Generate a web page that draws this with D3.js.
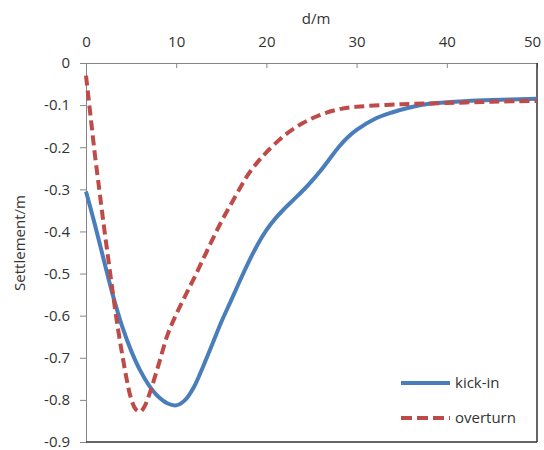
<!DOCTYPE html>
<html>
<head>
    <meta charset="utf-8" />
    <title>Settlement vs distance</title>
    <style>
        body { margin: 0; background: #fff; }
        svg text { font-family: "Open Sans", sans-serif; fill: #333; }
    </style>
    <script src="https://cdn.jsdelivr.net/npm/d3@7"></script>
</head>
<body>
    <div id="chart"></div>
    <script>
        // distance (m) and settlement (m)
        var kickD = [0, 1, 2, 3, 4, 5, 6, 7, 8, 9, 10, 11, 12, 13, 14, 15, 16, 17, 18, 19, 20,
                     21, 22, 23, 24, 25, 26, 27, 28, 29, 30, 32, 34, 36, 38, 40, 45, 50];
        var kickV = [-0.305, -0.385, -0.47, -0.553, -0.625, -0.683, -0.73, -0.766, -0.792, -0.808, -0.813,
                     -0.8, -0.768, -0.72, -0.668, -0.615, -0.568, -0.52, -0.474, -0.432, -0.397,
                     -0.369, -0.346, -0.325, -0.304, -0.281, -0.256, -0.228, -0.2, -0.177, -0.159,
                     -0.133, -0.117, -0.105, -0.097, -0.093, -0.088, -0.085];

        var overD = [0, 0.5, 1, 1.5, 2, 2.5, 3, 3.5, 4, 4.5, 5, 5.5, 6, 6.5, 7, 8, 9, 10, 11, 12,
                     13, 14, 15, 16, 17, 18, 19, 20, 22, 24, 26, 28, 30, 35, 40, 45, 50];
        var overV = [-0.03, -0.125, -0.22, -0.305, -0.39, -0.47, -0.55, -0.625, -0.69, -0.75, -0.797, -0.822,
                     -0.828, -0.815, -0.788, -0.72, -0.648, -0.597, -0.553, -0.51,
                     -0.465, -0.42, -0.377, -0.338, -0.3, -0.264, -0.236, -0.212, -0.172, -0.143,
                     -0.123, -0.11, -0.104, -0.098, -0.095, -0.092, -0.09];

        var xTicks = [0, 10, 20, 30, 40, 50];
        var yTicks = [0, -0.1, -0.2, -0.3, -0.4, -0.5, -0.6, -0.7, -0.8, -0.9];

        var series = [
            { name: 'kick-in', d: kickD, v: kickV, color: '#4a7ebb', dash: null },
            { name: 'overturn', d: overD, v: overV, color: '#be4b48', dash: '10,5' }
        ];

        var width = 544, height = 450;
        var plotLeft = 86, plotRight = 537, plotTop = 63, plotBottom = 442;

        var svg = d3.select('#chart').append('svg')
            .attr('width', width)
            .attr('height', height);

        var x = d3.scaleLinear().domain([0, 50]).range([plotLeft, plotRight]);
        var y = d3.scaleLinear().domain([0, -0.9]).range([plotTop, plotBottom]);

        // top axis (ticks point into the plot)
        var gX = svg.append('g')
            .attr('transform', 'translate(0,' + plotTop + ')')
            .call(d3.axisTop(x).tickValues(xTicks).tickSizeInner(-5).tickSizeOuter(0).tickPadding(16)
                .tickFormat(d3.format('d')));
        gX.select('.domain').attr('stroke', '#868686');
        gX.selectAll('.tick line').attr('stroke', '#868686');
        gX.selectAll('.tick text').style('font-size', '15px').attr('fill', '#333');
        // keep the last label inside the window
        gX.selectAll('.tick text').filter(d => d === 50).attr('dx', -5);

        var gY = svg.append('g')
            .attr('transform', 'translate(' + plotLeft + ',0)')
            .call(d3.axisLeft(y).tickValues(yTicks).tickSizeInner(6).tickSizeOuter(0).tickPadding(10)
                .tickFormat(d => d === 0 ? '0' : d.toFixed(1)));
        gY.select('.domain').attr('stroke', '#868686');
        gY.selectAll('.tick line').attr('stroke', '#868686');
        gY.selectAll('.tick text').style('font-size', '15px').attr('fill', '#333');

        // bottom and right borders
        svg.append('line')
            .attr('x1', plotLeft).attr('x2', plotRight)
            .attr('y1', plotBottom).attr('y2', plotBottom)
            .attr('stroke', '#333').attr('stroke-width', 1.5);
        svg.append('line')
            .attr('x1', plotRight).attr('x2', plotRight)
            .attr('y1', plotTop).attr('y2', plotBottom)
            .attr('stroke', '#333').attr('stroke-width', 1.5);

        // axis titles
        svg.append('text')
            .attr('x', 316).attr('y', 24)
            .attr('text-anchor', 'middle')
            .style('font-size', '15px')
            .text('d/m');
        svg.append('text')
            .attr('transform', 'translate(25,243) rotate(-90)')
            .attr('text-anchor', 'middle')
            .style('font-size', '15px')
            .text('Settlement/m');

        var line = d3.line()
            .x(p => x(p[0]))
            .y(p => y(p[1]))
            .curve(d3.curveCatmullRom.alpha(0.5));

        svg.selectAll('.series')
            .data(series)
            .enter()
            .append('path')
            .attr('class', 'series')
            .attr('d', s => line(d3.zip(s.d, s.v)))
            .attr('fill', 'none')
            .attr('stroke', s => s.color)
            .attr('stroke-width', 4)
            .attr('stroke-dasharray', s => s.dash);

        // legend
        var legend = svg.selectAll('.legend')
            .data(series)
            .enter()
            .append('g')
            .attr('class', 'legend')
            .attr('transform', (s, i) => 'translate(401,' + (383 + i * 35) + ')');
        legend.append('line')
            .attr('x1', 0).attr('x2', 49)
            .attr('stroke', s => s.color)
            .attr('stroke-width', 4)
            .attr('stroke-dasharray', s => s.dash ? '11,5' : null);
        legend.append('text')
            .attr('x', 54).attr('dy', '0.35em')
            .style('font-size', '15px')
            .text(s => s.name);
    </script>
</body>
</html>
